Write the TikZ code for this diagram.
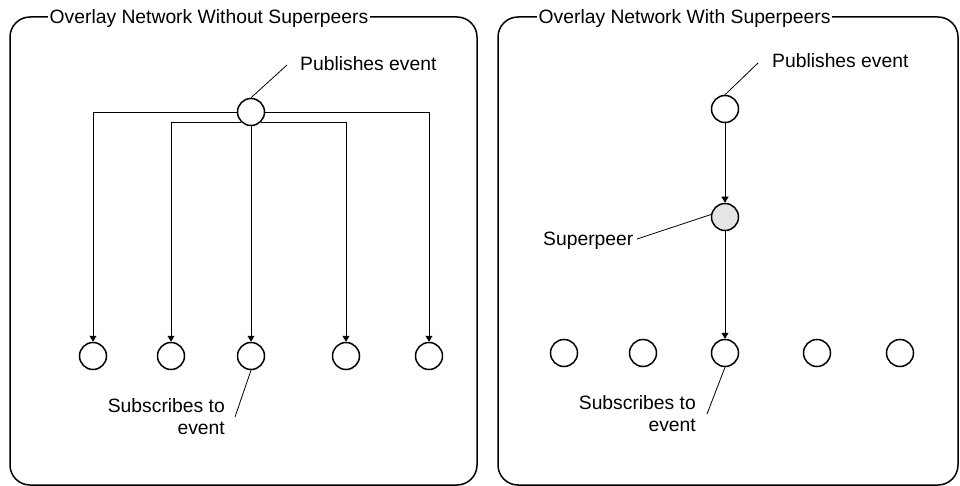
\documentclass[tikz,border=0pt]{standalone}
\usepackage{fontspec}
\setmainfont{Liberation Sans}
\usetikzlibrary{arrows.meta}
\begin{document}
\begin{tikzpicture}[x=1pt,y=-1pt,
  font=\fontsize{19.3}{22.5}\selectfont,
  frame/.style={draw=black,line width=1.5pt,rounded corners=20pt},
  boxtitle/.style={fill=white,inner xsep=1.5pt,inner ysep=1pt,anchor=base west},
  peer/.style={circle,draw=black,line width=1.5pt,fill=white,minimum size=27pt,inner sep=0pt},
  superpeer/.style={peer,fill=gray!20},
  msg/.style={draw=black,line width=0.9pt,-{Triangle[width=7pt,length=6pt]}},
  lead/.style={draw=black,line width=0.8pt},
  lbl/.style={inner sep=0pt,anchor=base west},
  multilbl/.style={inner sep=0pt,anchor=north east,align=right}
]
\useasboundingbox (0,0) rectangle (960,486);

% ---------- frames ----------
\draw[frame] (10,17) rectangle (477,485);
\node[boxtitle] (t1) at (48,24) {Overlay Network Without Superpeers};
\draw[frame] (498,17) rectangle (958,485);
\node[boxtitle] (t2) at (537,24) {Overlay Network With Superpeers};

% ---------- left network ----------
\node[peer] (p1) at (251,112) {};
\foreach \i/\x in {1/93,2/171,3/251,4/346,5/429}
  \node[peer] (a\i) at (\x,356) {};
\draw[msg] (p1.west) -| (a1);
\draw[msg] (p1.east) -| (a5);
\draw[msg] (p1.-135) -| (a2);
\draw[msg] (p1.-45) -| (a4);
\draw[msg] (p1) -- (a3);

\node[lbl] (pl1) at (300,71) {Publishes event};
\coordinate (pe1) at (287,65);
\draw[lead] (p1.north) -- (pe1);

\node[multilbl] (sl1) at (225,398) {Subscribes to\\event};
\coordinate (se1) at (235,417);
\draw[lead] (a3.south) -- (se1);

% ---------- right network ----------
\node[peer] (q1) at (725,109) {};
\node[superpeer] (sp) at (725,217) {};
\foreach \i/\x in {1/564,2/643,3/725,4/817,5/900}
  \node[peer] (b\i) at (\x,353) {};
\draw[msg] (q1) -- (sp);
\draw[msg] (sp) -- (b3);

\node[lbl] (pl2) at (772,68) {Publishes event};
\coordinate (pe2) at (758,63);
\draw[lead] (q1.north) -- (pe2);

\node[lbl] (spl) at (543,245) {Superpeer};
\coordinate (spe) at (637,239);
\draw[lead] (sp.170) -- (spe);

\node[multilbl] (sl2) at (696,395) {Subscribes to\\event};
\coordinate (se2) at (707,414);
\draw[lead] (b3.south) -- (se2);
\end{tikzpicture}
\end{document}
